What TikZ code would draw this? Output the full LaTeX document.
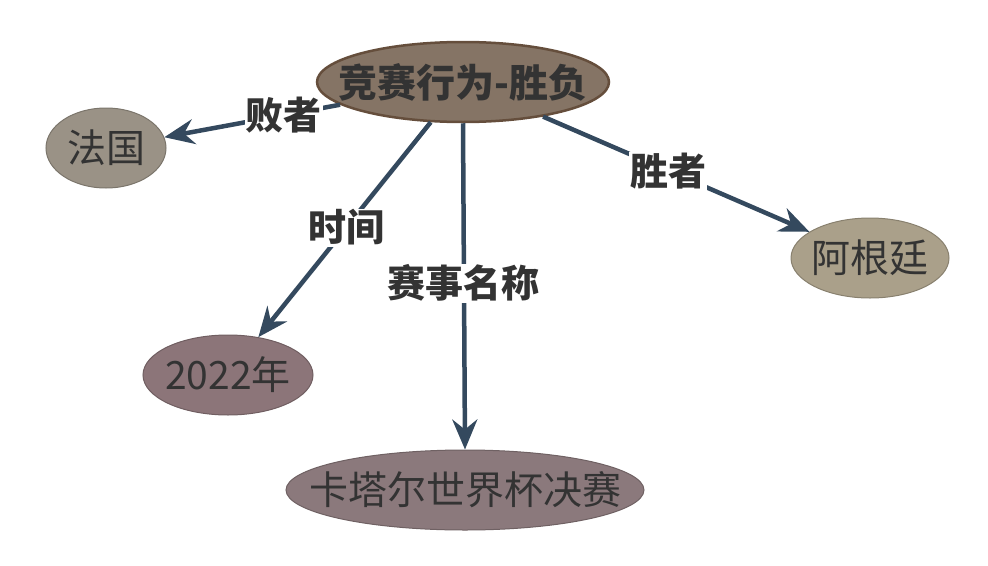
\documentclass[tikz,border=0pt]{standalone}
\usepackage{fontspec}
\setmainfont{Noto Sans CJK SC}
\usepackage{xcolor}
\usepackage{tikz}
\usetikzlibrary{shapes,arrows.meta}
\definecolor{kgevt}{RGB}{133,116,101}
\definecolor{kgevtb}{RGB}{101,78,60}
\definecolor{kgfr}{RGB}{154,146,134}
\definecolor{kgar}{RGB}{170,160,138}
\definecolor{kgyr}{RGB}{140,117,121}
\definecolor{kgmt}{RGB}{139,121,124}
\definecolor{kgedge}{RGB}{52,73,94}
\definecolor{kgtxt}{RGB}{51,51,51}
\newcommand{\cevt}{kgevt}
\newcommand{\cedge}{kgedge}
\tikzset{
	every node/.style = { align = center, inner sep=0pt, text=kgtxt, font=\fontsize{39}{42}\selectfont },
	evt/.style = { ellipse, fill=\cevt, draw=kgevtb, line width=2.5pt, inner xsep=-40pt, minimum width=292pt, minimum height=80pt, font=\fontsize{39}{42}\selectfont\bfseries },
	ent/.style = { ellipse, fill=#1, draw=#1!80!black, line width=1pt, inner xsep=-40pt, minimum height=80pt },
	lbl/.style = { fill=white, inner sep=1pt, font=\fontsize{38}{42}\selectfont\bfseries },
	rel/.style = { draw=\cedge, line width=4.5pt, -{Stealth[length=30pt,width=25pt,inset=10pt]} },
}
\begin{document}
\begin{tikzpicture}[x=1pt,y=-1pt]
\useasboundingbox (0,0) rectangle (988,565);

\node (evt) [evt]                               at (463,82)  {竞赛行为-胜负};
\node (fr)  [ent=kgfr, minimum width=120pt]     at (106,148) {法国};
\node (ar)  [ent=kgar, minimum width=158pt]     at (870,258) {阿根廷};
\node (yr)  [ent=kgyr, minimum width=170pt]     at (228,375) {2022年};
\node (mt)  [ent=kgmt, minimum width=358pt]     at (465,490) {卡塔尔世界杯决赛};

\draw[rel] (evt) -- (fr) node[lbl,pos=0.32] {败者};
\draw[rel] (evt) -- (ar) node[lbl,pos=0.47] {胜者};
\draw[rel] (evt) -- (yr) node[lbl,pos=0.49] {时间};
\draw[rel] (evt.south) -- (mt.north) node[lbl,pos=0.49] {赛事名称};

\end{tikzpicture}
\end{document}
